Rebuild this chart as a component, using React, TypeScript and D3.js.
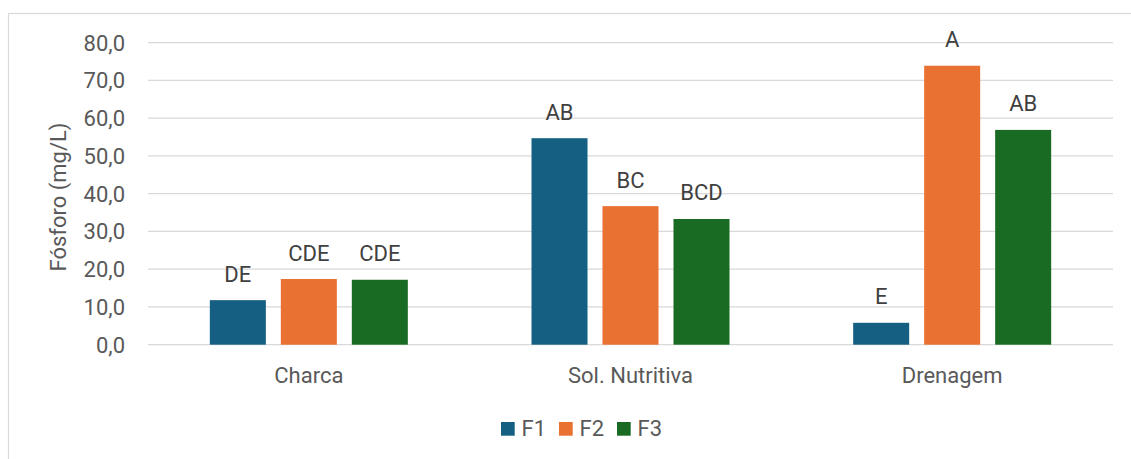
import * as d3 from "d3";

const categories = ["Charca", "Sol. Nutritiva", "Drenagem"];
const seriesNames = ["F1", "F2", "F3"];
const f1 = [11.8, 54.7, 5.8];
const f2 = [17.4, 36.7, 73.9];
const f3 = [17.2, 33.3, 56.9];
const letters = [
  ["DE", "CDE", "CDE"],
  ["AB", "BC", "BCD"],
  ["E", "A", "AB"],
];
const yTicks = [0, 10, 20, 30, 40, 50, 60, 70, 80];
const colors = ["#156082", "#E97132", "#196B24"];

const W = 1131;
const H = 459;
const FONT = "Roboto, 'Liberation Sans', sans-serif";
const FS = 22;

export default function App() {
  const values = [f1, f2, f3];
  const x0 = d3.scaleBand().domain(categories).range([148, 1113]).padding(0);
  const groupW = 198;
  const x1 = d3
    .scaleBand()
    .domain(seriesNames)
    .range([0, groupW])
    .paddingInner(0.211)
    .paddingOuter(0);
  const y = d3.scaleLinear().domain([0, 80]).range([344.7, 42.7]);
  const fmt = (v: number) => d3.format(".1f")(v).replace(".", ",");

  return (
    <svg
      width={W}
      height={H}
      style={{ position: "absolute", left: 0, top: 0, background: "#fff" }}
      fontFamily={FONT}
    >
      <rect x={8.5} y={13.5} width={1200} height={600} fill="#fff" stroke="#d9d9d9" strokeWidth={1.2} />

      {/* grid + y ticks */}
      {yTicks.map((t) => (
        <g key={t}>
          <line x1={148} x2={1113} y1={y(t)} y2={y(t)} stroke="#d9d9d9" strokeWidth={1.3} />
          <text x={125} y={y(t) + 8} textAnchor="end" fontSize={FS} fill="#595959">
            {fmt(t)}
          </text>
        </g>
      ))}

      <text
        transform={`translate(66, 197) rotate(-90)`}
        textAnchor="middle"
        fontSize={FS}
        fill="#595959"
      >
        Fósforo (mg/L)
      </text>

      {categories.map((c, ci) => {
        const gx = (x0(c) as number) + (x0.bandwidth() - groupW) / 2;
        return (
          <g key={c}>
            {seriesNames.map((s, si) => {
              const v = values[si][ci];
              const bx = gx + (x1(s) as number);
              return (
                <g key={s}>
                  <rect
                    x={bx}
                    y={y(v)}
                    width={x1.bandwidth()}
                    height={y(0) - y(v)}
                    fill={colors[si]}
                  />
                  <text
                    x={bx + x1.bandwidth() / 2}
                    y={y(v) - 18.5}
                    textAnchor="middle"
                    fontSize={FS}
                    fill="#404040"
                  >
                    {letters[ci][si]}
                  </text>
                </g>
              );
            })}
            <text
              x={(x0(c) as number) + x0.bandwidth() / 2}
              y={382.5}
              textAnchor="middle"
              fontSize={FS}
              fill="#595959"
            >
              {c}
            </text>
          </g>
        );
      })}

      {/* legend */}
      {seriesNames.map((s, i) => {
        const lx = 501 + i * 58;
        return (
          <g key={s}>
            <rect x={lx} y={422} width={13.7} height={13.7} fill={colors[i]} />
            <text x={lx + 20.5} y={436} fontSize={FS} fill="#595959">
              {s}
            </text>
          </g>
        );
      })}
    </svg>
  );
}
